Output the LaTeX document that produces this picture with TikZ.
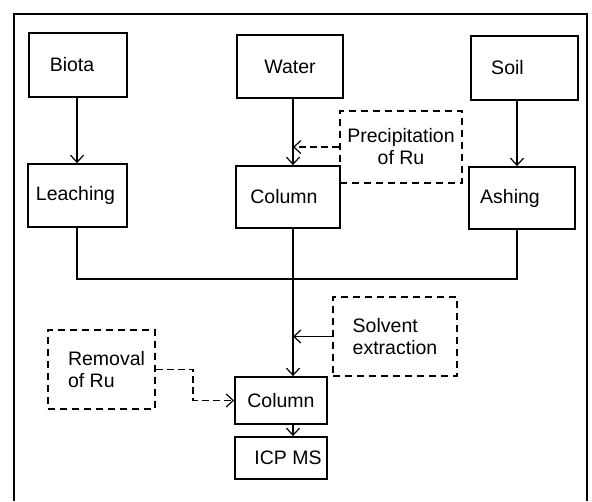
\documentclass[tikz,border=0pt]{standalone}
\usepackage{fontspec}
\setmainfont{Liberation Sans}
\usetikzlibrary{arrows.meta}
\begin{document}
\begin{tikzpicture}[x=1pt,y=-1pt,
  font=\fontsize{19.5}{22}\selectfont,
  box/.style={draw,line width=1.8pt,inner sep=0pt,minimum width=#1},
  dbox/.style={draw,line width=1.2pt,dash pattern=on 7pt off 5pt,inner sep=0pt},
  conn/.style={line width=1.5pt},
  tip/.style={-{Straight Barb[length=7pt,width=13pt,line width=1.2pt]}},
  arr/.style={conn,tip},
  darr/.style={line width=1.2pt,dash pattern=on 7pt off 4pt,tip}]
\useasboundingbox (0,0) rectangle (592,501);
\fill[white] (0,0) rectangle (592,501);
% frame
\draw[line width=1.6pt] (14,501) -- (14,14) -- (587,14) -- (587,501);
% nodes
\node[box=98pt,minimum height=64pt] (biota) at (78,65) {\raisebox{-6pt}{Biota}\hspace*{12pt}};
\node[box=106pt,minimum height=63pt] (water) at (290,66.5) {\raisebox{-6pt}{Water}};
\node[box=107pt,minimum height=64pt] (soil) at (524.5,68) {\raisebox{-6pt}{Soil}\hspace*{34pt}};
\node[box=99pt,minimum height=63pt] (leach) at (77.5,195.5) {\raisebox{-3pt}{Leaching}\hspace*{4pt}};
\node[box=104pt,minimum height=62pt] (col1) at (288,197) {\raisebox{-2pt}{Column}\hspace*{8pt}};
\node[box=106pt,minimum height=62pt] (ash) at (522,198) {\raisebox{-2pt}{Ashing}\hspace*{24pt}};
\node[dbox,minimum width=122pt,minimum height=72pt,align=center] (precip) at (401,147) {Precipitation\\of Ru};
\node[dbox,minimum width=124pt,minimum height=79pt,align=left] (solv) at (395,336.5) {Solvent\\extraction};
\node[dbox,minimum width=107pt,minimum height=79pt,align=left] (remov) at (101.5,369.5) {\hspace*{10pt}Removal\\\hspace*{10pt}of Ru};
\node[box=92pt,minimum height=47pt] (col2) at (281,400.5) {Column};
\node[box=92pt,minimum height=42pt] (icp) at (281,458) {\hspace*{14pt}ICP MS};
% helper coordinates
\coordinate (spine) at (293,0);
\coordinate (lx) at (77,0);
\coordinate (rx) at (517,0);
\coordinate (mL) at (77,279);
\coordinate (mR) at (517,279);
\coordinate (bend) at (193,0);
% connectors
\draw[arr] (biota.south -| lx) -- (leach.north -| lx);
\draw[arr] (water.south -| spine) -- (col1.north -| spine);
\draw[arr] (soil.south -| rx) -- (ash.north -| rx);
\draw[darr] (precip.west) -- (precip.west -| spine);
\draw[conn] (leach.south -| lx) -- (mL) -- (mR) -- (ash.south -| rx);
\draw[arr] (col1.south -| spine) -- (col2.north -| spine);
\draw[arr,line width=1.2pt] (solv.west) -- (solv.west -| spine);
\draw[darr] (remov.east) -- (remov.east -| bend) |- (col2.west);
\draw[arr] (col2.south -| spine) -- (icp.north -| spine);
\end{tikzpicture}
\end{document}
